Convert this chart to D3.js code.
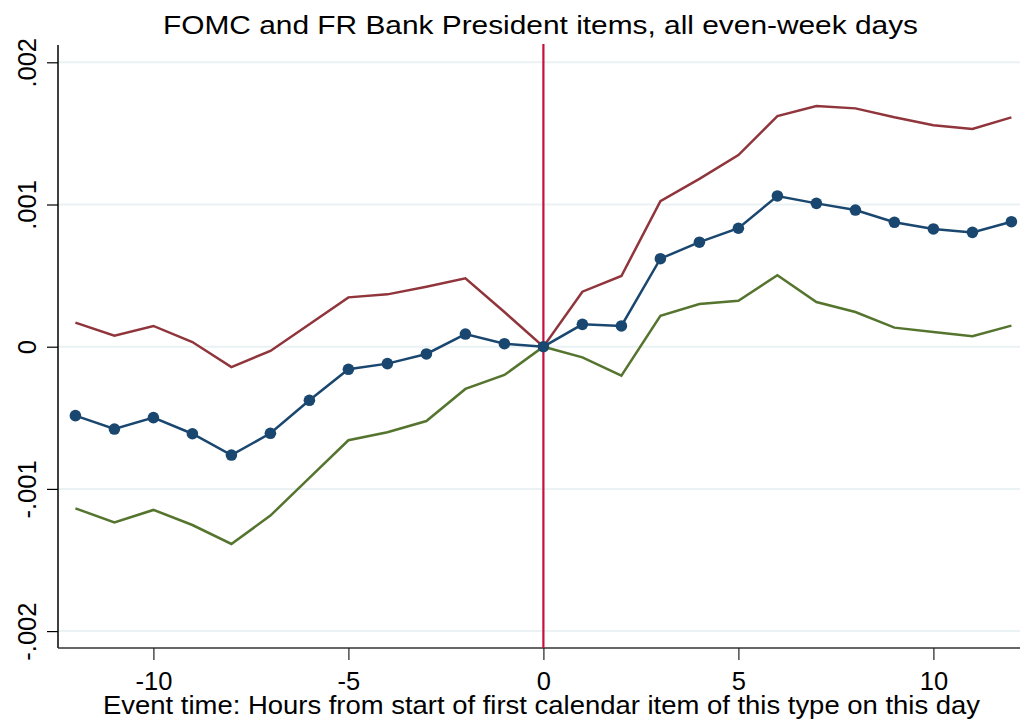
<!DOCTYPE html>
<html>
<head>
<meta charset="utf-8">
<script src="https://d3js.org/d3.v7.min.js"></script>
<style>
  body { margin: 0; background: #fff; }
  text { font-family: "Liberation Sans", Arial, sans-serif; fill: #000; }
</style>
</head>
<body>
<svg id="chart"></svg>
<script>
// event hours
const hours = [-12, -11, -10, -9, -8, -7, -6, -5, -4, -3, -2, -1, 0, 1, 2, 3, 4, 5, 6, 7, 8, 9, 10, 11, 12];
// point estimate
const estimate = [-0.000485, -0.000579, -0.000499, -0.000612, -0.000762, -0.000609, -0.000377, -0.000159, -0.000119, -0.000051, 0.000089, 0.000021, 0,
  0.000157, 0.000146, 0.000619, 0.000735, 0.000833, 0.00106, 0.001008, 0.000961, 0.000875, 0.000828, 0.000804, 0.000879];
// upper band
const upper = [0.000169, 0.000077, 0.000146, 0.000033, -0.000143, -0.00003, 0.000158, 0.000347, 0.000368, 0.000422, 0.000481, 0.000244, 0,
  0.000387, 0.000497, 0.001024, 0.00118, 0.001348, 0.001622, 0.001693, 0.001676, 0.001613, 0.001557, 0.001531, 0.001613];
// lower band
const lower = [-0.001137, -0.001235, -0.001148, -0.001254, -0.001387, -0.001188, -0.000922, -0.000658, -0.000602, -0.000523, -0.000297, -0.000199, 0,
  -0.000075, -0.000204, 0.000218, 0.0003, 0.000323, 0.000502, 0.000314, 0.000244, 0.000134, 0.000103, 0.000073, 0.000148];

const xTicks = [-10, -5, 0, 5, 10];
const xTickLabels = ["-10", "-5", "0", "5", "10"];
const yTicks = [-0.002, -0.001, 0, 0.001, 0.002];
const yTickLabels = ["-.002", "-.001", "0", ".001", ".002"];

const W = 1020, H = 721;
const plotLeft = 58, plotRight = 1020, plotTop = 45, plotBottom = 648;

const svg = d3.select("#chart").attr("width", W).attr("height", H);

const x = d3.scaleLinear().domain([-12, 12]).range([75.4, 1011.4]);
const y = d3.scaleLinear().domain([-0.002, 0.002]).range([631.1, 62.3]);

// gridlines
svg.append("g")
  .selectAll("line")
  .data(yTicks)
  .enter()
  .append("line")
  .attr("x1", plotLeft)
  .attr("x2", plotRight)
  .attr("y1", (d) => y(d))
  .attr("y2", (d) => y(d))
  .attr("stroke", "#eaf2f3")
  .attr("stroke-width", 2);

// y axis
const yAxis = svg.append("g")
  .attr("transform", `translate(${plotLeft},0)`)
  .call(d3.axisLeft(y).tickValues(yTicks).tickSize(11).tickFormat((d, i) => yTickLabels[i]));
yAxis.select(".domain").attr("d", `M0,${plotTop}V${plotBottom}`).attr("stroke", "#000").attr("stroke-width", 1.5);
yAxis.selectAll(".tick line").attr("stroke", "#000").attr("stroke-width", 1.2);
yAxis.selectAll(".tick text")
  .attr("x", null).attr("dy", null)
  .attr("transform", "translate(-22,0) rotate(-90)")
  .attr("text-anchor", "middle")
  .style("font-size", "25.5px");

// x axis
const xAxis = svg.append("g")
  .attr("transform", `translate(0,${plotBottom})`)
  .call(d3.axisBottom(x).tickValues(xTicks).tickSize(12).tickFormat((d, i) => xTickLabels[i]));
xAxis.select(".domain").attr("d", `M${plotLeft},0H${plotRight}`).attr("stroke", "#333").attr("stroke-width", 1.5);
xAxis.selectAll(".tick line").attr("stroke", "#222").attr("stroke-width", 1.2);
xAxis.selectAll(".tick text")
  .attr("y", 41.5).attr("dy", null)
  .style("font-size", "25.5px");

// vertical reference line at 0
svg.append("line")
  .attr("x1", x(0)).attr("x2", x(0))
  .attr("y1", 44).attr("y2", plotBottom)
  .attr("stroke", "#c8103e")
  .attr("stroke-width", 2.2);

const mk = (vals) => d3.line().x((d, i) => x(hours[i])).y((d) => y(d))(vals);

const series = [
  { vals: upper, color: "#90353b" },
  { vals: lower, color: "#55752f" },
  { vals: estimate, color: "#1a476f" },
];
series.forEach((s) => {
  svg.append("path")
    .attr("d", mk(s.vals))
    .attr("fill", "none")
    .attr("stroke", s.color)
    .attr("stroke-width", 2.5)
    .attr("stroke-linejoin", "miter");
});

svg.append("g")
  .selectAll("circle")
  .data(estimate)
  .enter()
  .append("circle")
  .attr("cx", (d, i) => x(hours[i]))
  .attr("cy", (d) => y(d))
  .attr("r", 5.8)
  .attr("fill", "#1a476f");

// titles
svg.append("text")
  .attr("x", 540.5).attr("y", 34)
  .attr("text-anchor", "middle")
  .attr("textLength", 755)
  .attr("lengthAdjust", "spacingAndGlyphs")
  .style("font-size", "25.5px")
  .text("FOMC and FR Bank President items, all even-week days");

svg.append("text")
  .attr("x", 541.5).attr("y", 714)
  .attr("text-anchor", "middle")
  .attr("textLength", 877)
  .attr("lengthAdjust", "spacingAndGlyphs")
  .style("font-size", "25.5px")
  .text("Event time: Hours from start of first calendar item of this type on this day");
</script>
</body>
</html>
